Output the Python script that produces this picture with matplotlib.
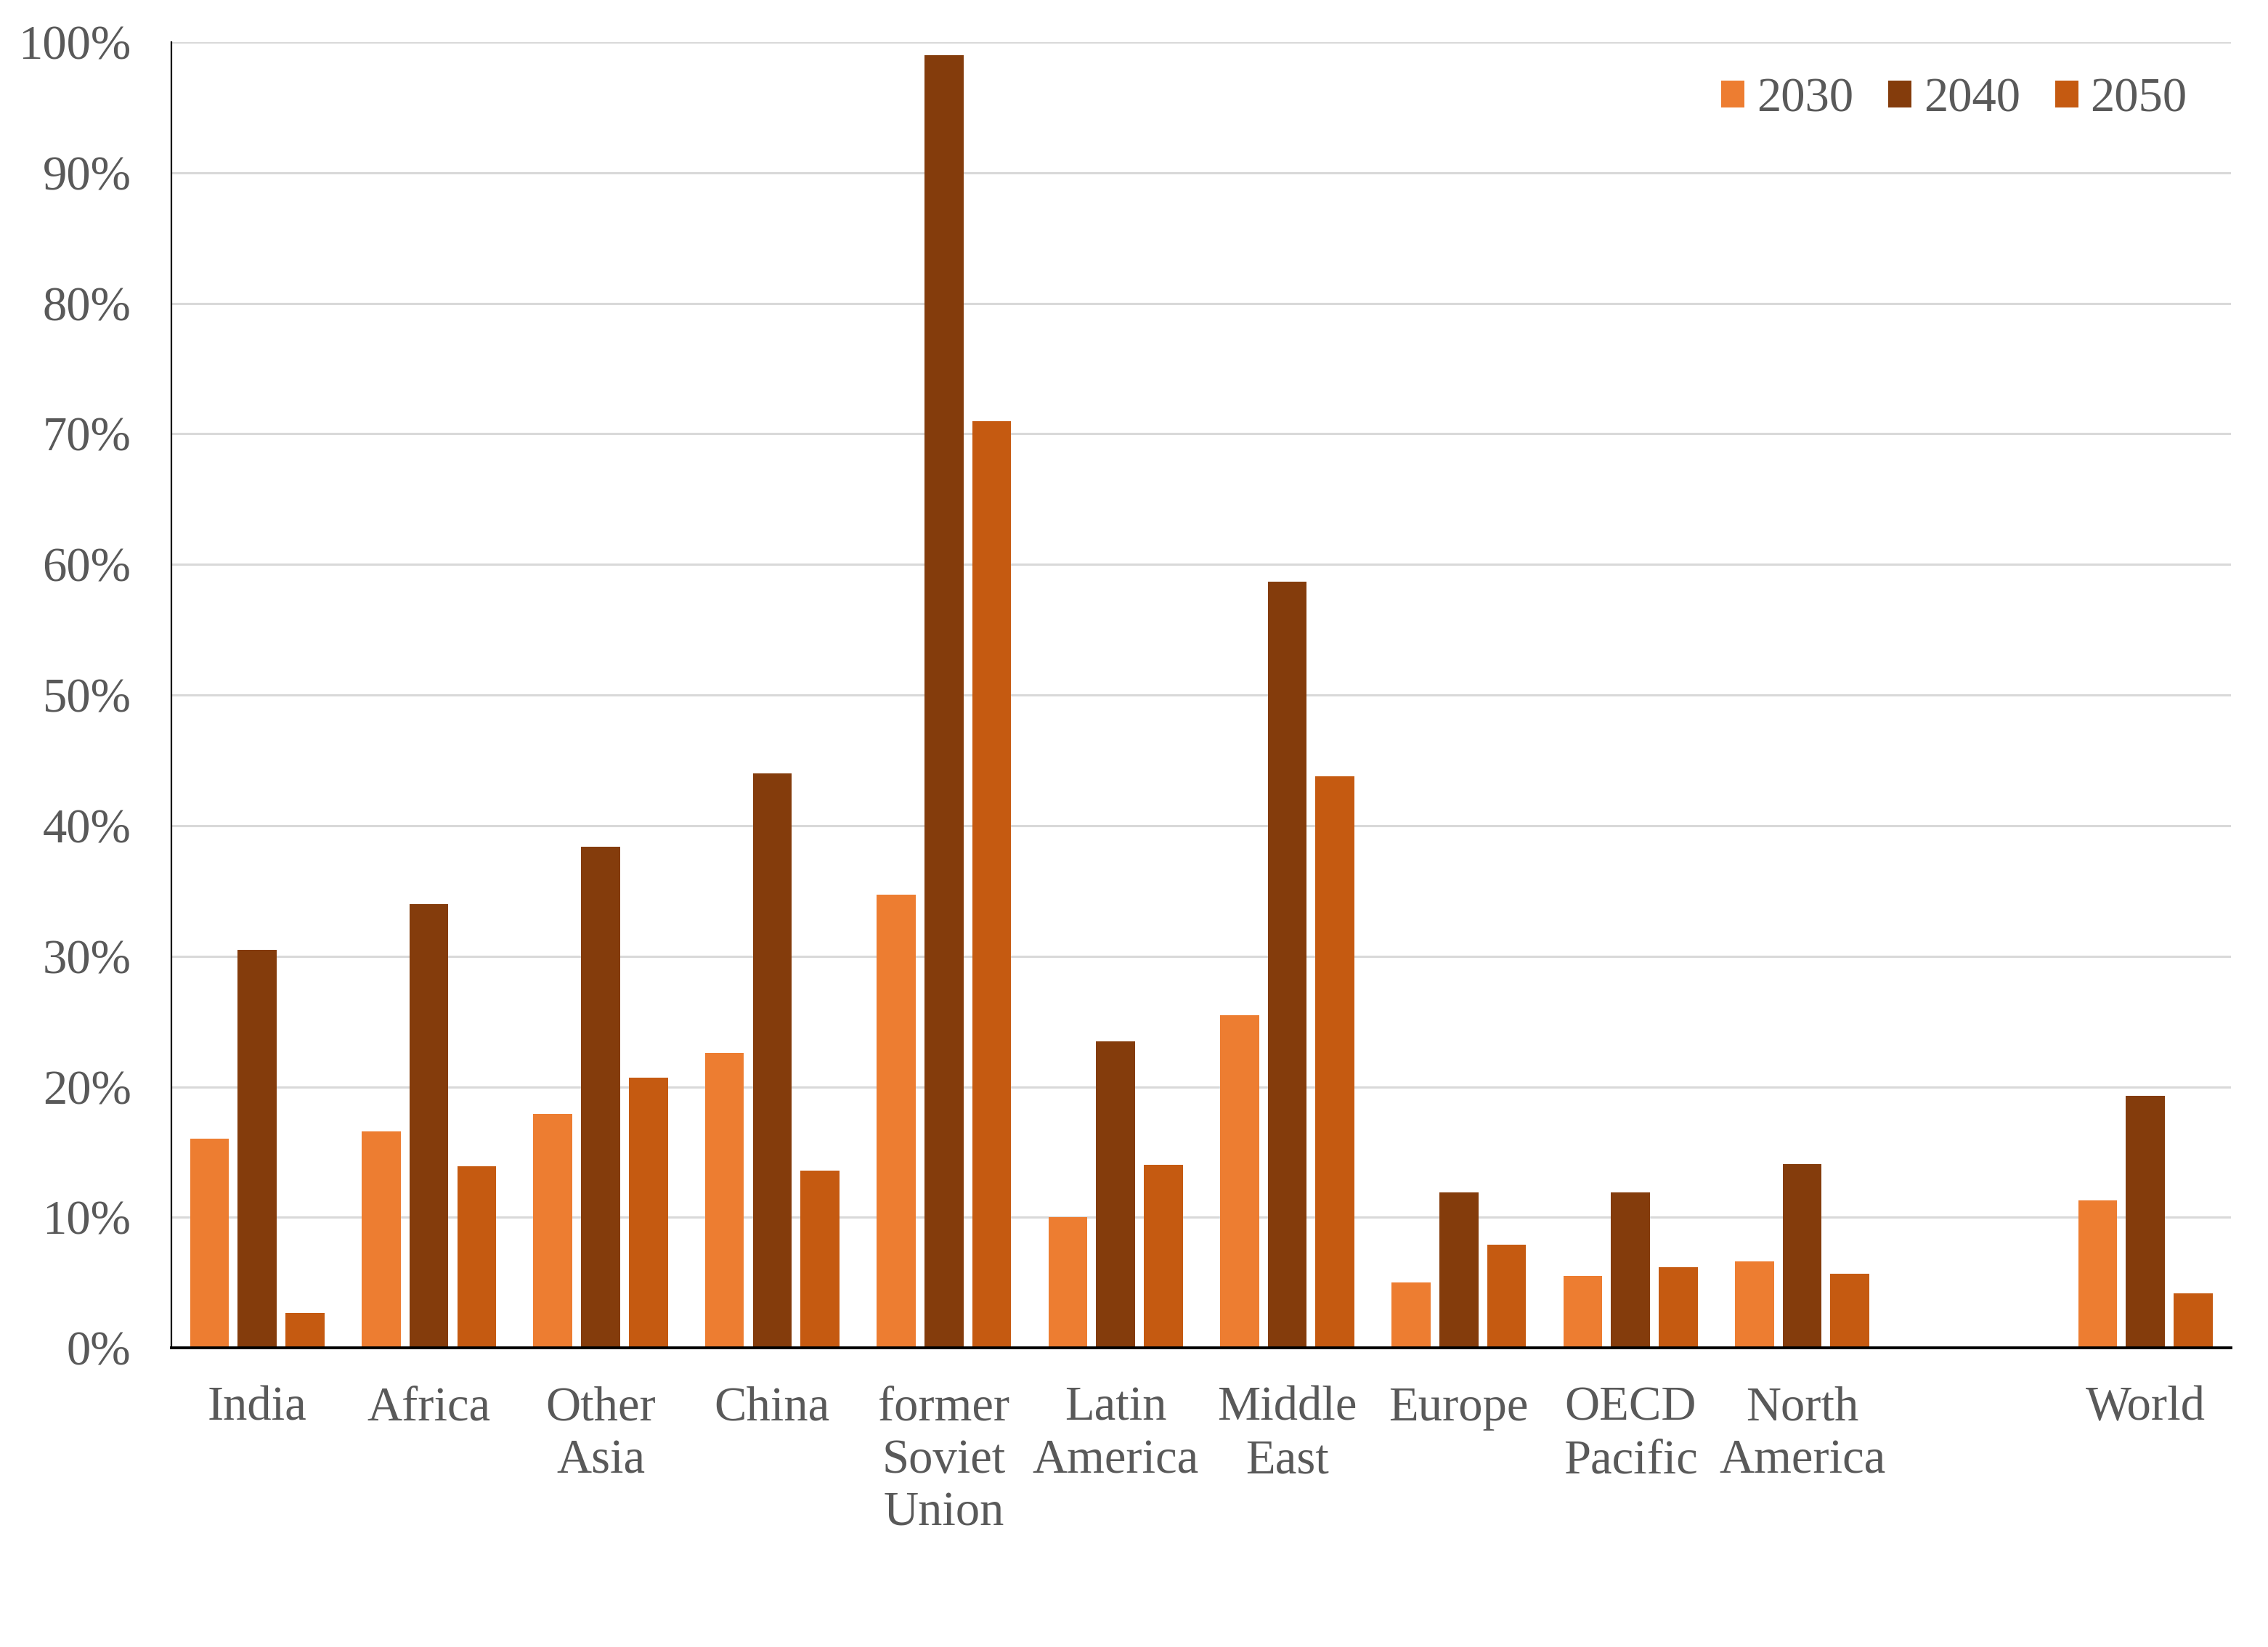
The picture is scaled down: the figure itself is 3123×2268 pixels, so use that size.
import matplotlib
matplotlib.use("Agg")
import matplotlib.pyplot as plt
import numpy as np
from matplotlib.ticker import FuncFormatter

regions = ["India", "Africa", "Other\nAsia", "China", "former\nSoviet\nUnion",
           "Latin\nAmerica", "Middle\nEast", "Europe", "OECD\nPacific",
           "North\nAmerica", "World"]
years = ["2030", "2040", "2050"]
share_2030 = [16.0, 16.6, 17.9, 22.6, 34.7, 10.0, 25.5, 5.0, 5.5, 6.6, 11.3]
share_2040 = [30.5, 34.0, 38.4, 44.0, 99.0, 23.5, 58.7, 11.9, 11.9, 14.1, 19.3]
share_2050 = [2.7, 13.9, 20.7, 13.6, 71.0, 14.0, 43.8, 7.9, 6.2, 5.7, 4.2]
y_ticks = [0, 10, 20, 30, 40, 50, 60, 70, 80, 90, 100]

colors = ["#ED7D31", "#843C0C", "#C55A11"]
text_grey = "#595959"

plt.rcParams["font.family"] = ["Liberation Serif", "DejaVu Serif"]

fig = plt.figure(figsize=(15.615, 11.34), dpi=200)
ax = fig.add_axes([0.0756, 0.1816, 0.9082, 0.7928])

# leave an empty slot before World
x = np.arange(len(regions), dtype=float)
x[-1] += 1
width = 0.227
offset = 0.278

for i, (vals, label) in enumerate(zip([share_2030, share_2040, share_2050], years)):
    ax.bar(x + (i - 1) * offset, vals, width=width, color=colors[i], label=label, zorder=3)

ax.set_xlim(-0.5, 11.5)
ax.set_ylim(0, 100)
ax.set_yticks(y_ticks)
ax.yaxis.set_major_formatter(FuncFormatter(lambda v, _: f"{v:.0f}%"))
ax.set_xticks(x)
ax.set_xticklabels(regions, linespacing=1.24)

ax.tick_params(axis="both", length=0, labelsize=24, colors=text_grey)
ax.tick_params(axis="y", pad=20)
ax.tick_params(axis="x", pad=19)

ax.grid(axis="y", color="#D9D9D9", linewidth=1.1, zorder=0)
ax.set_axisbelow(True)
for side in ["top", "right"]:
    ax.spines[side].set_visible(False)
ax.spines["left"].set_color("black")
ax.spines["left"].set_linewidth(0.8)
ax.spines["bottom"].set_color("black")
ax.spines["bottom"].set_linewidth(1.4)
ax.spines["bottom"].set_zorder(4)

leg = ax.legend(ncol=3, frameon=False, loc="upper right", bbox_to_anchor=(0.995, 0.999),
                fontsize=24, handlelength=0.48, handleheight=0.48, handletextpad=0.25,
                columnspacing=0.72, borderaxespad=0.3)
for t in leg.get_texts():
    t.set_color(text_grey)

fig.savefig("out.png", dpi=200)
